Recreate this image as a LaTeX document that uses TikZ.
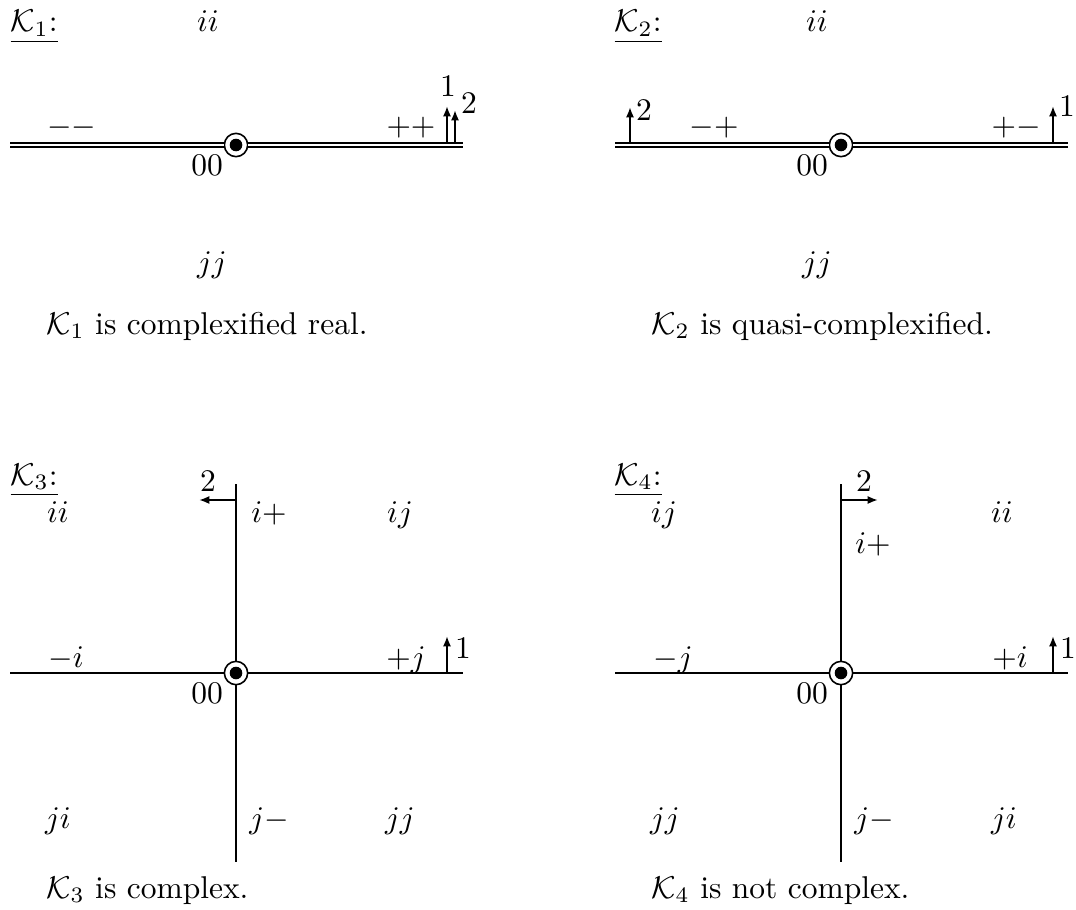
\documentclass[tikz,border=0pt]{standalone}
\usetikzlibrary{arrows.meta}
\begin{document}
\begin{tikzpicture}[x=0.3175pt,y=-0.3175pt,
  lbl/.style={inner sep=0pt, anchor=base},
  captext/.style={inner sep=0pt, anchor=base west},
  num/.style={inner sep=0pt, anchor=center},
  axisline/.style={line width=0.8pt},
  dbl/.style={double, double distance=0.7pt, line width=0.5pt},
  vec/.style={line width=0.65pt, -{Latex[length=3.3pt,width=2.6pt]}},
  origin/.style={circle, draw, line width=0.5pt, minimum size=7.4pt, inner sep=0pt},
  ]
\useasboundingbox (0,0) rectangle (1076,910);

% ---------------- K1 ----------------
\node[captext] (t1) at (10,32) {\underline{$\mathcal{K}_1$:}};
\node[lbl] (k1ii) at (208,32) {$ii$};
\node[origin] (o1) at (236,145) {};
\fill (o1.center) circle (2pt);
\coordinate (w1) at (10,145);
\coordinate (e1) at (463,145);
\draw[dbl] (w1) -- (o1);
\draw[dbl] (o1) -- (e1);
\node[lbl] (k1oo) at (207,175) {$00$};
\node[lbl] (k1mm) at (72,135) {$--$};
\node[lbl] (k1pp) at (411,135) {$++$};
\coordinate (k1a1s) at (447,143);
\coordinate (k1a1e) at (447,106);
\coordinate (k1a2s) at (455,143);
\coordinate (k1a2e) at (455,110);
\draw[vec] (k1a1s) -- (k1a1e);
\draw[vec] (k1a2s) -- (k1a2e);
\node[num] (k1n1) at (448,86) {$1$};
\node[num] (k1n2) at (469,103) {$2$};
\node[lbl] (k1jj) at (212,272) {$jj$};
\node[captext] (c1) at (46,334) {$\mathcal{K}_1$ is complexified real.};

% ---------------- K2 ----------------
\node[captext] (t2) at (614,32) {\underline{$\mathcal{K}_2$:}};
\node[lbl] (k2ii) at (817,32) {$ii$};
\node[origin] (o2) at (841,145) {};
\fill (o2.center) circle (2pt);
\coordinate (w2) at (615,145);
\coordinate (e2) at (1068,145);
\draw[dbl] (w2) -- (o2);
\draw[dbl] (o2) -- (e2);
\node[lbl] (k2oo) at (812,175) {$00$};
\node[lbl] (k2mp) at (714,135) {$-+$};
\node[lbl] (k2pm) at (1016,135) {$+-$};
\coordinate (k2a2s) at (630,143);
\coordinate (k2a2e) at (630,107);
\coordinate (k2a1s) at (1053,143);
\coordinate (k2a1e) at (1053,106);
\draw[vec] (k2a2s) -- (k2a2e);
\draw[vec] (k2a1s) -- (k2a1e);
\node[num] (k2n2) at (644,110) {$2$};
\node[num] (k2n1) at (1067,106) {$1$};
\node[lbl] (k2jj) at (817,272) {$jj$};
\node[captext] (c2) at (651,334) {$\mathcal{K}_2$ is quasi-complexified.};

% ---------------- K3 ----------------
\node[captext] (t3) at (10,485) {\underline{$\mathcal{K}_3$:}};
\node[origin] (o3) at (236,673) {};
\fill (o3.center) circle (2pt);
\coordinate (w3) at (10,673);
\coordinate (e3) at (463,673);
\coordinate (n3) at (236,484);
\coordinate (s3) at (236,862);
\draw[axisline] (w3) -- (o3);
\draw[axisline] (o3) -- (e3);
\draw[axisline] (n3) -- (o3);
\draw[axisline] (o3) -- (s3);
\node[lbl] (k3oo) at (207,703) {$00$};
\coordinate (k3a2s) at (236,500);
\coordinate (k3a2e) at (199,500);
\draw[vec] (k3a2s) -- (k3a2e);
\node[num] (k3n2) at (208,481) {$2$};
\node[lbl] (k3ii) at (58,522) {$ii$};
\node[lbl] (k3ip) at (269,522) {$i+$};
\node[lbl] (k3ij) at (400,522) {$ij$};
\node[lbl] (k3mi) at (66,667) {$-i$};
\node[lbl] (k3pj) at (406,667) {$+j$};
\coordinate (k3a1s) at (447,673);
\coordinate (k3a1e) at (447,636);
\draw[vec] (k3a1s) -- (k3a1e);
\node[num] (k3n1) at (463,648) {$1$};
\node[lbl] (k3ji) at (58,828) {$ji$};
\node[lbl] (k3jm) at (269,828) {$j-$};
\node[lbl] (k3jj) at (400,828) {$jj$};
\node[captext] (c3) at (46,898) {$\mathcal{K}_3$ is complex.};

% ---------------- K4 ----------------
\node[captext] (t4) at (614,485) {\underline{$\mathcal{K}_4$:}};
\node[origin] (o4) at (841,673) {};
\fill (o4.center) circle (2pt);
\coordinate (w4) at (615,673);
\coordinate (e4) at (1068,673);
\coordinate (n4) at (841,484);
\coordinate (s4) at (841,862);
\draw[axisline] (w4) -- (o4);
\draw[axisline] (o4) -- (e4);
\draw[axisline] (n4) -- (o4);
\draw[axisline] (o4) -- (s4);
\node[lbl] (k4oo) at (812,703) {$00$};
\coordinate (k4a2s) at (841,500);
\coordinate (k4a2e) at (878,500);
\draw[vec] (k4a2s) -- (k4a2e);
\node[num] (k4n2) at (864,481) {$2$};
\node[lbl] (k4ij) at (664,522) {$ij$};
\node[lbl] (k4ii) at (1002,522) {$ii$};
\node[lbl] (k4ip) at (873,553) {$i+$};
\node[lbl] (k4mj) at (673,667) {$-j$};
\node[lbl] (k4pi) at (1010,667) {$+i$};
\coordinate (k4a1s) at (1053,673);
\coordinate (k4a1e) at (1053,636);
\draw[vec] (k4a1s) -- (k4a1e);
\node[num] (k4n1) at (1068,648) {$1$};
\node[lbl] (k4jj) at (665,828) {$jj$};
\node[lbl] (k4jm) at (874,828) {$j-$};
\node[lbl] (k4ji) at (1004,828) {$ji$};
\node[captext] (c4) at (651,898) {$\mathcal{K}_4$ is not complex.};
\end{tikzpicture}
\end{document}
